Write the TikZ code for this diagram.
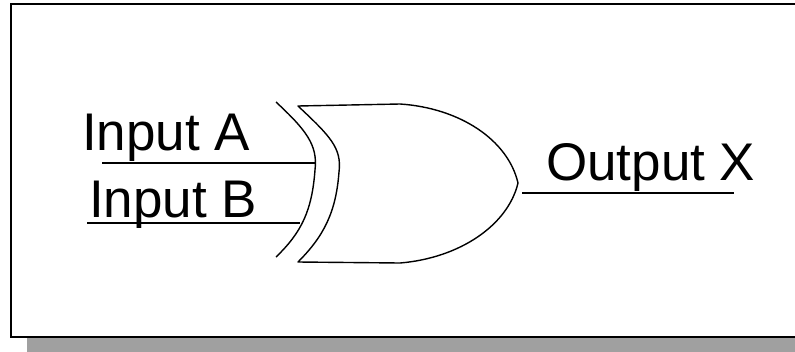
\documentclass[tikz,border=0pt]{standalone}
\usepackage{fontspec}
\setmainfont{Liberation Sans}
\definecolor{shadowgray}{HTML}{A0A0A0}
\tikzset{
  gateline/.style={line width=1.4pt, line join=round},
  wire/.style={line width=1.4pt},
  lbl/.style={anchor=base west, inner sep=0pt, font=\fontsize{53}{60}\selectfont}
}
\begin{document}
\begin{tikzpicture}[x=1pt,y=-1pt]
\useasboundingbox (0,0) rectangle (795,351);
\clip (0,0) rectangle (795,351);
% frame with shadow
\fill[shadowgray] (27,20) rectangle (815,360);
\draw[line width=1.6pt, fill=white] (11,4) rectangle (805,337);
% labels
\node[lbl] (inA) at (82,150) {Input A};
\node[lbl] (inB) at (89,217) {Input B};
\node[lbl] (outX) at (546,180) {Output X};
% wires
\coordinate (a1) at (102,163); \coordinate (a2) at (315,163);
\coordinate (b1) at (87,223);  \coordinate (b2) at (300,223);
\coordinate (o1) at (522,193); \coordinate (o2) at (734,193);
\draw[wire] (a1) -- (a2);
\draw[wire] (b1) -- (b2);
\draw[wire] (o1) -- (o2);
% XOR extra arc
\draw[gateline] (276,102) .. controls (306,130) and (318,145) .. (315,170)
  .. controls (312,210) and (302,232) .. (276,257);
% gate body
\coordinate (tip) at (518,183);
\draw[gateline] (298,106) .. controls (330,136) and (342,148) .. (339,172)
  .. controls (336,212) and (324,236) .. (298,262)
  -- (400,263) .. controls (460,258) and (508,225) .. (tip)
  .. controls (508,140) and (460,108) .. (400,104) -- cycle;
\end{tikzpicture}
\end{document}
